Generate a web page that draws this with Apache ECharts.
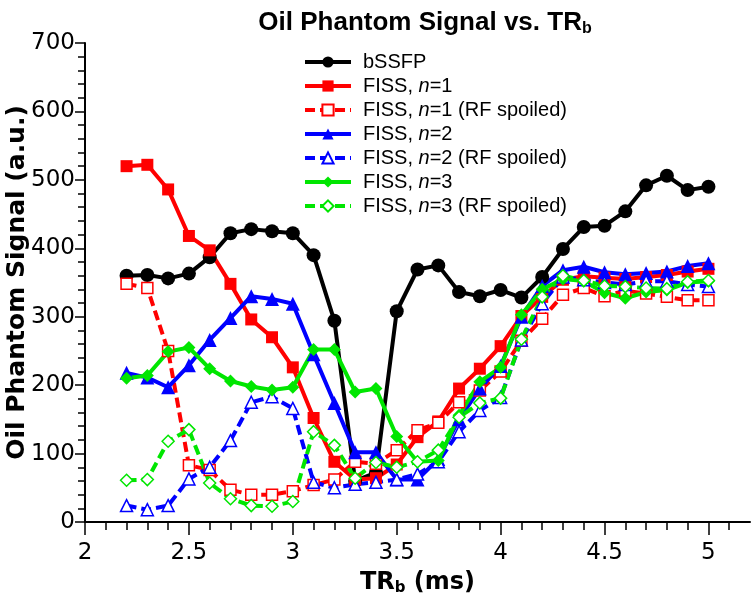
<!DOCTYPE html>
<html><head><meta charset="utf-8">
<script src="https://cdn.jsdelivr.net/npm/echarts@6/dist/echarts.min.js"></script>
<style>html,body{margin:0;padding:0;background:#fff}#c{width:751px;height:597px}</style>
</head><body><div id="c"></div>
<script>
var tr = [2.2,2.3,2.4,2.5,2.6,2.7,2.8,2.9,3.0,3.1,3.2,3.3,3.4,3.5,3.6,3.7,3.8,3.9,4.0,4.1,4.2,4.3,4.4,4.5,4.6,4.7,4.8,4.9,5.0];
var bSSFP   = [360,361,356,363,387,422,428,425,422,390,294,60,72,308,369,375,336,330,339,328,358,399,431,433,454,492,506,485,490];
var fiss1   = [520,522,486,418,397,348,296,270,226,152,88,62,64,84,124,147,195,224,257,301,329,354,359,357,355,358,361,366,370];
var fiss1RF = [348,342,250,83,76,47,40,40,45,54,62,88,85,105,134,145,175,192,220,265,297,332,342,330,338,334,329,324,324];
var fiss2   = [218,211,197,229,266,298,330,326,319,245,174,102,102,62,62,92,150,195,228,300,345,368,373,365,362,364,366,374,378];
var fiss2RF = [24,18,24,63,80,119,175,183,166,58,50,55,58,62,70,88,132,163,182,266,319,358,354,350,347,352,352,347,344];
var fiss3   = [210,214,249,255,224,206,198,193,197,252,252,190,195,125,88,90,156,205,226,303,340,355,352,335,327,336,339,350,352];
var fiss3RF = [61,62,118,135,57,34,24,23,30,132,112,64,87,80,88,105,153,174,181,267,329,360,353,345,344,342,341,351,353];
var xTicks = [2,2.5,3,3.5,4,4.5,5];
var seriesNames = ['bSSFP','FISS, n=1','FISS, n=1 (RF spoiled)','FISS, n=2','FISS, n=2 (RF spoiled)','FISS, n=3','FISS, n=3 (RF spoiled)'];

function pts(v){ return tr.map(function(x,i){ return [x, v[i]]; }); }
var RED='#ff0000', BLUE='#0000ff', GREEN='#00e600';
function solid(name, data, color, symbol, size){
  return {name:name, type:'line', data:pts(data), symbol:symbol, symbolSize:size,
    lineStyle:{color:color, width:4}, itemStyle:{color:color}, color:color};
}
function dashed(name, data, color, symbol, size){
  return {name:name, type:'line', data:pts(data), symbol:symbol, symbolSize:size,
    lineStyle:{color:color, width:4, type:[10,5]}, itemStyle:{color:'#ffffff', borderColor:color, borderWidth:1.5}, color:color};
}
var chart = echarts.init(document.getElementById('c'));
chart.setOption({
  animation:false,
  backgroundColor:'#fff',
  title:{text:'{t|Oil Phantom Signal vs. TR}{s|b}', left:420, textAlign:'center', top:3,
    textStyle:{rich:{t:{fontFamily:'Liberation Sans',fontWeight:'bold',fontSize:26,color:'#000'},
                     s:{fontFamily:'Liberation Sans',fontWeight:'bold',fontSize:16,color:'#000',verticalAlign:'bottom',padding:[13,0,0,0]}}}},
  grid:{left:85, right:1, top:43, bottom:75, outerBoundsMode:'none', containLabel:false},
  legend:{orient:'vertical', left:298, top:47, itemWidth:46, itemHeight:14, itemGap:4,
    data:seriesNames,
    lineStyle:{width:4},
    formatter:function(n){ var m=n.match(/^(FISS, )n(=.*)$/); return m ? '{r|'+m[1]+'}{i|n}{r|'+m[2]+'}' : '{r|'+n+'}'; },
    textStyle:{padding:[0,0,0,7], rich:{r:{fontFamily:'Liberation Sans',fontSize:20,color:'#000'},i:{fontFamily:'Liberation Sans',fontStyle:'italic',fontSize:20,color:'#000'}}}},
  xAxis:{type:'value', min:2, max:5.2, interval:0.5,
    name:'{a|TR}{b|b}{a| (ms)}', nameLocation:'middle', nameGap:48, nameMoveOverlap:false,
    nameTextStyle:{rich:{a:{fontFamily:'DejaVu Sans',fontWeight:'bold',fontSize:24,color:'#000'},b:{fontFamily:'DejaVu Sans',fontWeight:'bold',fontSize:15,color:'#000',verticalAlign:'bottom',padding:[11,0,0,0]}}},
    axisLine:{lineStyle:{color:'#000',width:2}},
    axisTick:{length:13, inside:false, lineStyle:{color:'#000',width:1.5}, customValues:xTicks},
    minorTick:{show:true, splitNumber:5, length:8, lineStyle:{color:'#000',width:1.5}},
    axisLabel:{fontFamily:'DejaVu Sans', fontSize:23, color:'#000', margin:20, customValues:xTicks},
    splitLine:{show:false}},
  yAxis:{type:'value', min:0, max:700, interval:100,
    name:'Oil Phantom Signal (a.u.)', nameLocation:'middle', nameRotate:90, nameGap:55, nameMoveOverlap:false,
    nameTextStyle:{fontFamily:'DejaVu Sans',fontWeight:'bold',fontSize:25,color:'#000'},
    axisLine:{show:true, lineStyle:{color:'#000',width:2}},
    axisTick:{show:true, length:10, lineStyle:{color:'#000',width:1.5}},
    minorTick:{show:true, splitNumber:5, length:7, lineStyle:{color:'#000',width:1.5}},
    axisLabel:{fontFamily:'DejaVu Sans', fontSize:23, color:'#000', margin:10},
    splitLine:{show:false}},
  series:[
    solid(seriesNames[0], bSSFP, '#000000', 'circle', 14),
    solid(seriesNames[1], fiss1, RED, 'rect', 12),
    dashed(seriesNames[2], fiss1RF, RED, 'rect', 11),
    solid(seriesNames[3], fiss2, BLUE, 'triangle', 14),
    dashed(seriesNames[4], fiss2RF, BLUE, 'triangle', 12),
    solid(seriesNames[5], fiss3, GREEN, 'diamond', 13),
    dashed(seriesNames[6], fiss3RF, GREEN, 'diamond', 12)
  ]
});
</script></body></html>
